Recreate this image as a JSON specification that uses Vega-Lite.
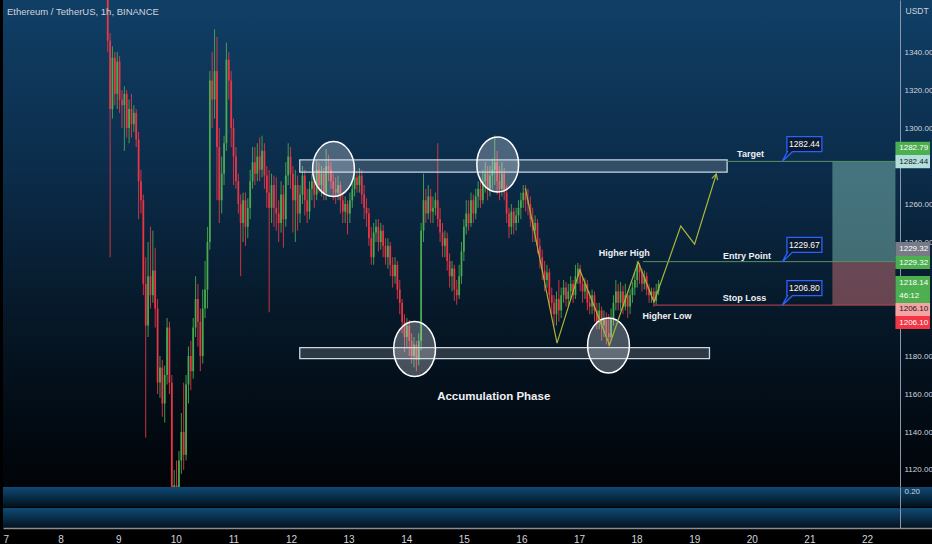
{
  "$schema": "https://vega.github.io/schema/vega-lite/v6.json",
  "background": "#000000",
  "padding": 0,
  "bounds": "flush",
  "spacing": 0,
  "config": {
    "view": {"stroke": null},
    "axis": {"grid": false, "ticks": false, "domain": false, "labelColor": "#d1d4dc", "labelFontSize": 8, "labelFont": "Liberation Sans", "titleFont": "Liberation Sans"},
    "text": {"font": "Liberation Sans"}
  },
  "datasets": {
    "candles": [
      {"t":8.75,"o":1400,"h":1420,"l":1340,"c":1346},{"t":8.792,"o":1346,"h":1350,"l":1232,"c":1310},{"t":8.833,"o":1310,"h":1343,"l":1305,"c":1337},{"t":8.875,"o":1337,"h":1340,"l":1312,"c":1318},{"t":8.917,"o":1318,"h":1340,"l":1310,"c":1335},{"t":8.958,"o":1335,"h":1338,"l":1308,"c":1315},
      {"t":9,"o":1315,"h":1320,"l":1300,"c":1312},{"t":9.042,"o":1312,"h":1322,"l":1288,"c":1318},{"t":9.083,"o":1318,"h":1320,"l":1295,"c":1300},{"t":9.125,"o":1300,"h":1315,"l":1292,"c":1310},{"t":9.167,"o":1310,"h":1318,"l":1295,"c":1302},{"t":9.208,"o":1302,"h":1312,"l":1298,"c":1308},{"t":9.25,"o":1308,"h":1310,"l":1290,"c":1294},{"t":9.292,"o":1294,"h":1298,"l":1252,"c":1272},{"t":9.333,"o":1272,"h":1278,"l":1255,"c":1262},{"t":9.375,"o":1262,"h":1265,"l":1212,"c":1218},{"t":9.417,"o":1218,"h":1232,"l":1137,"c":1196},{"t":9.458,"o":1196,"h":1240,"l":1190,"c":1222},{"t":9.5,"o":1222,"h":1248,"l":1205,"c":1212},{"t":9.542,"o":1212,"h":1246,"l":1208,"c":1225},{"t":9.583,"o":1225,"h":1237,"l":1195,"c":1205},{"t":9.625,"o":1205,"h":1210,"l":1160,"c":1166},{"t":9.667,"o":1166,"h":1180,"l":1158,"c":1174},{"t":9.708,"o":1174,"h":1178,"l":1148,"c":1155},{"t":9.75,"o":1155,"h":1175,"l":1145,"c":1170},{"t":9.792,"o":1170,"h":1200,"l":1165,"c":1195},{"t":9.833,"o":1195,"h":1198,"l":1160,"c":1166},{"t":9.875,"o":1166,"h":1170,"l":1075,"c":1100},{"t":9.917,"o":1100,"h":1120,"l":1080,"c":1112},{"t":9.958,"o":1112,"h":1125,"l":1085,"c":1100},
      {"t":10,"o":1100,"h":1130,"l":1085,"c":1125},{"t":10.042,"o":1125,"h":1150,"l":1118,"c":1140},{"t":10.083,"o":1140,"h":1166,"l":1120,"c":1128},{"t":10.125,"o":1128,"h":1170,"l":1125,"c":1165},{"t":10.167,"o":1165,"h":1185,"l":1155,"c":1180},{"t":10.208,"o":1180,"h":1188,"l":1162,"c":1172},{"t":10.25,"o":1172,"h":1200,"l":1168,"c":1195},{"t":10.292,"o":1195,"h":1222,"l":1190,"c":1210},{"t":10.333,"o":1210,"h":1218,"l":1185,"c":1198},{"t":10.375,"o":1198,"h":1205,"l":1172,"c":1180},{"t":10.417,"o":1180,"h":1215,"l":1176,"c":1205},{"t":10.458,"o":1205,"h":1230,"l":1200,"c":1215},{"t":10.5,"o":1215,"h":1248,"l":1205,"c":1240},{"t":10.542,"o":1240,"h":1330,"l":1236,"c":1325},{"t":10.583,"o":1325,"h":1340,"l":1300,"c":1315},{"t":10.625,"o":1315,"h":1352,"l":1305,"c":1330},{"t":10.667,"o":1330,"h":1348,"l":1262,"c":1290},{"t":10.708,"o":1290,"h":1300,"l":1250,"c":1262},{"t":10.75,"o":1262,"h":1285,"l":1255,"c":1276},{"t":10.792,"o":1276,"h":1296,"l":1270,"c":1292},{"t":10.833,"o":1292,"h":1345,"l":1288,"c":1336},{"t":10.875,"o":1336,"h":1340,"l":1315,"c":1325},{"t":10.917,"o":1325,"h":1330,"l":1290,"c":1300},{"t":10.958,"o":1300,"h":1305,"l":1270,"c":1285},
      {"t":11,"o":1285,"h":1290,"l":1268,"c":1272},{"t":11.042,"o":1272,"h":1276,"l":1255,"c":1260},{"t":11.083,"o":1260,"h":1265,"l":1222,"c":1250},{"t":11.125,"o":1250,"h":1266,"l":1240,"c":1262},{"t":11.167,"o":1262,"h":1266,"l":1238,"c":1248},{"t":11.208,"o":1248,"h":1263,"l":1242,"c":1258},{"t":11.25,"o":1258,"h":1278,"l":1252,"c":1272},{"t":11.292,"o":1272,"h":1290,"l":1268,"c":1282},{"t":11.333,"o":1282,"h":1290,"l":1270,"c":1276},{"t":11.375,"o":1276,"h":1292,"l":1272,"c":1285},{"t":11.417,"o":1285,"h":1295,"l":1272,"c":1278},{"t":11.458,"o":1278,"h":1296,"l":1274,"c":1288},{"t":11.5,"o":1288,"h":1292,"l":1268,"c":1275},{"t":11.542,"o":1275,"h":1280,"l":1258,"c":1266},{"t":11.583,"o":1266,"h":1278,"l":1203,"c":1258},{"t":11.625,"o":1258,"h":1276,"l":1250,"c":1270},{"t":11.667,"o":1270,"h":1275,"l":1248,"c":1258},{"t":11.708,"o":1258,"h":1274,"l":1246,"c":1255},{"t":11.75,"o":1255,"h":1262,"l":1240,"c":1250},{"t":11.792,"o":1250,"h":1272,"l":1245,"c":1265},{"t":11.833,"o":1265,"h":1270,"l":1237,"c":1252},{"t":11.875,"o":1252,"h":1282,"l":1248,"c":1275},{"t":11.917,"o":1275,"h":1292,"l":1270,"c":1285},{"t":11.958,"o":1285,"h":1290,"l":1268,"c":1276},
      {"t":12,"o":1276,"h":1280,"l":1245,"c":1262},{"t":12.042,"o":1262,"h":1278,"l":1240,"c":1270},{"t":12.083,"o":1270,"h":1275,"l":1246,"c":1255},{"t":12.125,"o":1255,"h":1270,"l":1250,"c":1265},{"t":12.167,"o":1265,"h":1280,"l":1260,"c":1275},{"t":12.208,"o":1275,"h":1278,"l":1254,"c":1262},{"t":12.25,"o":1262,"h":1268,"l":1250,"c":1256},{"t":12.292,"o":1256,"h":1272,"l":1252,"c":1268},{"t":12.333,"o":1268,"h":1276,"l":1262,"c":1272},{"t":12.375,"o":1272,"h":1276,"l":1258,"c":1265},{"t":12.417,"o":1265,"h":1283,"l":1262,"c":1278},{"t":12.458,"o":1278,"h":1282,"l":1266,"c":1270},{"t":12.5,"o":1270,"h":1280,"l":1264,"c":1276},{"t":12.542,"o":1276,"h":1279,"l":1262,"c":1266},{"t":12.583,"o":1266,"h":1289,"l":1262,"c":1280},{"t":12.625,"o":1280,"h":1286,"l":1272,"c":1278},{"t":12.667,"o":1278,"h":1282,"l":1268,"c":1272},{"t":12.708,"o":1272,"h":1276,"l":1262,"c":1268},{"t":12.75,"o":1268,"h":1274,"l":1260,"c":1266},{"t":12.792,"o":1266,"h":1275,"l":1262,"c":1270},{"t":12.833,"o":1270,"h":1272,"l":1255,"c":1262},{"t":12.875,"o":1262,"h":1265,"l":1250,"c":1256},{"t":12.917,"o":1256,"h":1264,"l":1250,"c":1260},{"t":12.958,"o":1260,"h":1262,"l":1244,"c":1255},
      {"t":13,"o":1255,"h":1266,"l":1250,"c":1262},{"t":13.042,"o":1262,"h":1272,"l":1258,"c":1268},{"t":13.083,"o":1268,"h":1278,"l":1264,"c":1274},{"t":13.125,"o":1274,"h":1277,"l":1266,"c":1270},{"t":13.167,"o":1270,"h":1279,"l":1266,"c":1275},{"t":13.208,"o":1275,"h":1278,"l":1260,"c":1265},{"t":13.25,"o":1265,"h":1270,"l":1252,"c":1258},{"t":13.292,"o":1258,"h":1263,"l":1248,"c":1255},{"t":13.333,"o":1255,"h":1258,"l":1238,"c":1242},{"t":13.375,"o":1242,"h":1248,"l":1228,"c":1232},{"t":13.417,"o":1232,"h":1250,"l":1228,"c":1245},{"t":13.458,"o":1245,"h":1252,"l":1240,"c":1248},{"t":13.5,"o":1248,"h":1252,"l":1235,"c":1240},{"t":13.542,"o":1240,"h":1250,"l":1236,"c":1246},{"t":13.583,"o":1246,"h":1249,"l":1232,"c":1238},{"t":13.625,"o":1238,"h":1242,"l":1228,"c":1232},{"t":13.667,"o":1232,"h":1242,"l":1226,"c":1238},{"t":13.708,"o":1238,"h":1240,"l":1222,"c":1228},{"t":13.75,"o":1228,"h":1232,"l":1216,"c":1222},{"t":13.792,"o":1222,"h":1232,"l":1218,"c":1228},{"t":13.833,"o":1228,"h":1230,"l":1210,"c":1215},{"t":13.875,"o":1215,"h":1220,"l":1202,"c":1208},{"t":13.917,"o":1208,"h":1210,"l":1192,"c":1198},{"t":13.958,"o":1198,"h":1202,"l":1182,"c":1190},
      {"t":14,"o":1190,"h":1200,"l":1184,"c":1196},{"t":14.042,"o":1196,"h":1199,"l":1180,"c":1188},{"t":14.083,"o":1188,"h":1192,"l":1176,"c":1180},{"t":14.125,"o":1180,"h":1190,"l":1174,"c":1186},{"t":14.167,"o":1186,"h":1188,"l":1172,"c":1178},{"t":14.208,"o":1178,"h":1192,"l":1175,"c":1188},{"t":14.25,"o":1188,"h":1250,"l":1183,"c":1246},{"t":14.292,"o":1246,"h":1276,"l":1240,"c":1262},{"t":14.333,"o":1262,"h":1268,"l":1250,"c":1255},{"t":14.375,"o":1255,"h":1270,"l":1252,"c":1264},{"t":14.417,"o":1264,"h":1268,"l":1250,"c":1256},{"t":14.458,"o":1256,"h":1264,"l":1250,"c":1258},{"t":14.5,"o":1258,"h":1266,"l":1254,"c":1262},{"t":14.542,"o":1262,"h":1292,"l":1248,"c":1252},{"t":14.583,"o":1252,"h":1258,"l":1240,"c":1245},{"t":14.625,"o":1245,"h":1250,"l":1232,"c":1238},{"t":14.667,"o":1238,"h":1246,"l":1232,"c":1242},{"t":14.708,"o":1242,"h":1245,"l":1225,"c":1230},{"t":14.75,"o":1230,"h":1234,"l":1216,"c":1222},{"t":14.792,"o":1222,"h":1230,"l":1214,"c":1226},{"t":14.833,"o":1226,"h":1228,"l":1209,"c":1215},{"t":14.875,"o":1215,"h":1220,"l":1207,"c":1212},{"t":14.917,"o":1212,"h":1228,"l":1210,"c":1222},{"t":14.958,"o":1222,"h":1240,"l":1218,"c":1235},
      {"t":15,"o":1235,"h":1252,"l":1230,"c":1248},{"t":15.042,"o":1248,"h":1262,"l":1244,"c":1255},{"t":15.083,"o":1255,"h":1262,"l":1246,"c":1250},{"t":15.125,"o":1250,"h":1266,"l":1248,"c":1262},{"t":15.167,"o":1262,"h":1265,"l":1250,"c":1255},{"t":15.208,"o":1255,"h":1268,"l":1252,"c":1264},{"t":15.25,"o":1264,"h":1272,"l":1258,"c":1268},{"t":15.292,"o":1268,"h":1274,"l":1258,"c":1262},{"t":15.333,"o":1262,"h":1278,"l":1260,"c":1272},{"t":15.375,"o":1272,"h":1282,"l":1266,"c":1276},{"t":15.417,"o":1276,"h":1280,"l":1262,"c":1268},{"t":15.458,"o":1268,"h":1280,"l":1264,"c":1275},{"t":15.5,"o":1275,"h":1284,"l":1268,"c":1278},{"t":15.542,"o":1278,"h":1296,"l":1270,"c":1282},{"t":15.583,"o":1282,"h":1288,"l":1265,"c":1272},{"t":15.625,"o":1272,"h":1280,"l":1262,"c":1268},{"t":15.667,"o":1268,"h":1282,"l":1264,"c":1276},{"t":15.708,"o":1276,"h":1279,"l":1262,"c":1266},{"t":15.75,"o":1266,"h":1270,"l":1250,"c":1255},{"t":15.792,"o":1255,"h":1258,"l":1242,"c":1248},{"t":15.833,"o":1248,"h":1260,"l":1244,"c":1256},{"t":15.875,"o":1256,"h":1258,"l":1244,"c":1250},{"t":15.917,"o":1250,"h":1258,"l":1246,"c":1254},{"t":15.958,"o":1254,"h":1262,"l":1250,"c":1258},
      {"t":16,"o":1258,"h":1266,"l":1252,"c":1262},{"t":16.042,"o":1262,"h":1270,"l":1258,"c":1266},{"t":16.083,"o":1266,"h":1270,"l":1256,"c":1262},{"t":16.125,"o":1262,"h":1268,"l":1254,"c":1260},{"t":16.167,"o":1260,"h":1264,"l":1248,"c":1252},{"t":16.208,"o":1252,"h":1258,"l":1240,"c":1246},{"t":16.25,"o":1246,"h":1254,"l":1240,"c":1250},{"t":16.292,"o":1250,"h":1252,"l":1234,"c":1238},{"t":16.333,"o":1238,"h":1242,"l":1226,"c":1232},{"t":16.375,"o":1232,"h":1236,"l":1220,"c":1225},{"t":16.417,"o":1225,"h":1230,"l":1214,"c":1220},{"t":16.458,"o":1220,"h":1228,"l":1216,"c":1224},{"t":16.5,"o":1224,"h":1226,"l":1206,"c":1212},{"t":16.542,"o":1212,"h":1216,"l":1202,"c":1208},{"t":16.583,"o":1208,"h":1212,"l":1196,"c":1202},{"t":16.625,"o":1202,"h":1214,"l":1196,"c":1210},{"t":16.667,"o":1210,"h":1220,"l":1198,"c":1204},{"t":16.708,"o":1204,"h":1216,"l":1200,"c":1212},{"t":16.75,"o":1212,"h":1220,"l":1208,"c":1216},{"t":16.792,"o":1216,"h":1219,"l":1206,"c":1210},{"t":16.833,"o":1210,"h":1218,"l":1206,"c":1214},{"t":16.875,"o":1214,"h":1222,"l":1210,"c":1218},{"t":16.917,"o":1218,"h":1220,"l":1208,"c":1212},{"t":16.958,"o":1212,"h":1228,"l":1210,"c":1222},
      {"t":17,"o":1222,"h":1229,"l":1218,"c":1226},{"t":17.042,"o":1226,"h":1228,"l":1214,"c":1218},{"t":17.083,"o":1218,"h":1222,"l":1208,"c":1214},{"t":17.125,"o":1214,"h":1221,"l":1210,"c":1218},{"t":17.167,"o":1218,"h":1220,"l":1204,"c":1208},{"t":17.208,"o":1208,"h":1214,"l":1202,"c":1206},{"t":17.25,"o":1206,"h":1215,"l":1202,"c":1212},{"t":17.292,"o":1212,"h":1214,"l":1198,"c":1204},{"t":17.333,"o":1204,"h":1208,"l":1194,"c":1198},{"t":17.375,"o":1198,"h":1208,"l":1194,"c":1204},{"t":17.417,"o":1204,"h":1206,"l":1188,"c":1196},{"t":17.458,"o":1196,"h":1204,"l":1190,"c":1200},{"t":17.5,"o":1200,"h":1203,"l":1186,"c":1192},{"t":17.542,"o":1192,"h":1202,"l":1185,"c":1190},{"t":17.583,"o":1190,"h":1205,"l":1188,"c":1200},{"t":17.625,"o":1200,"h":1212,"l":1196,"c":1208},{"t":17.667,"o":1208,"h":1220,"l":1204,"c":1214},{"t":17.708,"o":1214,"h":1218,"l":1204,"c":1208},{"t":17.75,"o":1208,"h":1219,"l":1204,"c":1214},{"t":17.792,"o":1214,"h":1217,"l":1202,"c":1206},{"t":17.833,"o":1206,"h":1218,"l":1204,"c":1212},{"t":17.875,"o":1212,"h":1214,"l":1200,"c":1206},{"t":17.917,"o":1206,"h":1215,"l":1202,"c":1212},{"t":17.958,"o":1212,"h":1219,"l":1208,"c":1216},
      {"t":18,"o":1216,"h":1224,"l":1212,"c":1220},{"t":18.042,"o":1220,"h":1230,"l":1216,"c":1228},{"t":18.083,"o":1228,"h":1229,"l":1218,"c":1224},{"t":18.125,"o":1224,"h":1226,"l":1214,"c":1218},{"t":18.167,"o":1218,"h":1225,"l":1215,"c":1222},{"t":18.208,"o":1222,"h":1224,"l":1212,"c":1215},{"t":18.25,"o":1215,"h":1218,"l":1208,"c":1212},{"t":18.292,"o":1212,"h":1216,"l":1208,"c":1214},{"t":18.333,"o":1214,"h":1216,"l":1206,"c":1209},{"t":18.375,"o":1209,"h":1218,"l":1207,"c":1214},{"t":18.417,"o":1214,"h":1220,"l":1212,"c":1218.14}
    ],
    "zones": [
      {"t1":12.12,"t2":19.62,"p1":1276.8,"p2":1283.2},
      {"t1":12.12,"t2":19.31,"p1":1178.6,"p2":1184.4}
    ],
    "rings": [
      {"t":12.712,"p":1278.4},{"t":15.594,"p":1280.8},{"t":14.135,"p":1183.7},{"t":17.538,"p":1185.5}
    ],
    "path": [
      {"i":1,"t":16.08,"p":1268.4},{"i":2,"t":16.635,"p":1186.8},{"i":3,"t":17.035,"p":1225.3},{"i":4,"t":17.556,"p":1185.8},{"i":5,"t":18.059,"p":1229.5},{"i":6,"t":18.337,"p":1208.4},{"i":7,"t":18.806,"p":1248.4},{"i":8,"t":19.049,"p":1238.9},{"i":9,"t":19.43,"p":1275.8}
    ],
    "levels": [
      {"k":"target","t1":19.62,"t2":22.573,"p":1282.44},
      {"k":"entry","t1":18.146,"t2":22.573,"p":1229.67},
      {"k":"stop","t1":18.337,"t2":22.573,"p":1206.8}
    ],
    "position": [
      {"k":"profit","t1":21.467,"t2":22.573,"p1":1229.67,"p2":1282.44},
      {"k":"loss","t1":21.467,"t2":22.573,"p1":1206.8,"p2":1229.67}
    ],
    "notes": [
      {"s":"Target","t":20.03,"p":1286.3},
      {"s":"Entry Point","t":19.97,"p":1232.9},
      {"s":"Stop Loss","t":19.925,"p":1210.5},
      {"s":"Higher High","t":17.816,"p":1234.2},
      {"s":"Higher Low","t":18.563,"p":1200.8}
    ],
    "callouts": [
      {"s":"1282.44","t":20.976,"p":1291.5},
      {"s":"1229.67","t":20.976,"p":1238.5},
      {"s":"1206.80","t":20.976,"p":1215.7}
    ],
    "tags": [
      {"k":"up","lo":1285.8,"hi":1292.8},
      {"k":"teal","lo":1278.9,"hi":1285.8},
      {"k":"gray","lo":1232.6,"hi":1240},
      {"k":"up","lo":1225.8,"hi":1232.6},
      {"k":"up","lo":1207.9,"hi":1222.1},
      {"k":"pink","lo":1201.1,"hi":1207.9},
      {"k":"red","lo":1194.2,"hi":1201.1}
    ],
    "tagtext": [
      {"s":"1282.79","k":"up","p":1289.3},
      {"s":"1282.44","k":"teal","p":1282.35},
      {"s":"1229.32","k":"gray","p":1236.3},
      {"s":"1229.32","k":"up","p":1229.2},
      {"s":"1218.14","k":"up","p":1218.2},
      {"s":"46:12","k":"up","p":1211.6},
      {"s":"1206.10","k":"pink","p":1204.5},
      {"s":"1206.10","k":"red","p":1197.6}
    ]
  },
  "vconcat": [
    {
      "width": 932,
      "height": 487,
      "view": {"stroke": null, "fill": {"gradient": "linear", "x1": 0, "y1": 0, "x2": 0, "y2": 1, "stops": [{"offset": 0, "color": "#103f66"}, {"offset": 0.35, "color": "#0b2c4a"}, {"offset": 0.65, "color": "#061828"}, {"offset": 0.88, "color": "#020a12"}, {"offset": 1, "color": "#010408"}]}},
      "title": {"text": "Ethereum / TetherUS, 1h, BINANCE", "anchor": "start", "offset": -16, "dx": 4, "fontSize": 9.5, "fontWeight": "normal", "color": "#d1d4dc", "font": "Liberation Sans"},
      "layer": [
        {
          "data": {"name": "candles"},
          "mark": {"type": "rule", "clip": true, "strokeWidth": 1, "opacity": 0.85},
          "encoding": {
            "x": {"field": "t", "type": "quantitative", "scale": {"domain": [7, 23.18], "nice": false, "zero": false}, "axis": null},
            "y": {"field": "l", "type": "quantitative", "scale": {"domain": [1111.05, 1367.4], "nice": false, "zero": false},
              "axis": {"orient": "right", "offset": -35, "values": [1120, 1140, 1160, 1180, 1240, 1260, 1300, 1320, 1340], "format": ".2f", "labelPadding": 4, "domain": true, "domainColor": "#8c96a8", "title": "USDT", "titleAngle": 0, "titleAlign": "left", "titleBaseline": "top", "titleX": 5, "titleY": 6, "titleFontSize": 8.5, "titleFontWeight": "normal", "titleColor": "#d1d4dc"}},
            "y2": {"field": "h"},
            "color": {"condition": {"test": "datum.c >= datum.o", "value": "#4caf50"}, "value": "#f23645"}
          }
        },
        {
          "data": {"name": "candles"},
          "mark": {"type": "bar", "width": 1.8, "clip": true, "opacity": 0.9},
          "encoding": {
            "x": {"field": "t", "type": "quantitative", "axis": null},
            "y": {"field": "o", "type": "quantitative"},
            "y2": {"field": "c"},
            "color": {"condition": {"test": "datum.c >= datum.o", "value": "#4caf50"}, "value": "#f23645"}
          }
        },
        {
          "data": {"name": "zones"},
          "mark": {"type": "rect", "fill": "#ffffff", "fillOpacity": 0.16, "stroke": "#c9d6e3", "strokeWidth": 1.3},
          "encoding": {
            "x": {"field": "t1", "type": "quantitative", "axis": null},
            "x2": {"field": "t2"},
            "y": {"field": "p1", "type": "quantitative"},
            "y2": {"field": "p2"}
          }
        },
        {
          "data": {"name": "rings"},
          "mark": {"type": "point", "shape": "M 0 -1 A 0.76 1 0 1 1 0 1 A 0.76 1 0 1 1 0 -1 Z", "size": 3025, "filled": true, "fill": "#e0e6ea", "fillOpacity": 0.3, "stroke": "#ffffff", "strokeWidth": 1.5, "opacity": 1},
          "encoding": {
            "x": {"field": "t", "type": "quantitative", "axis": null},
            "y": {"field": "p", "type": "quantitative"}
          }
        },
        {
          "data": {"name": "path"},
          "mark": {"type": "line", "color": "#a8b43a", "strokeWidth": 1.2},
          "encoding": {
            "x": {"field": "t", "type": "quantitative", "axis": null},
            "y": {"field": "p", "type": "quantitative"},
            "order": {"field": "i"}
          }
        },
        {
          "data": {"name": "path"},
          "transform": [{"filter": "datum.i == 9"}],
          "mark": {"type": "point", "shape": "M -0.55 1 L 0 0 L 0.55 1", "size": 121, "angle": 17, "filled": false, "stroke": "#a8b43a", "strokeWidth": 1.2, "opacity": 1},
          "encoding": {
            "x": {"field": "t", "type": "quantitative", "axis": null},
            "y": {"field": "p", "type": "quantitative"}
          }
        },
        {
          "data": {"name": "position"},
          "mark": {"type": "rect"},
          "encoding": {
            "x": {"field": "t1", "type": "quantitative", "axis": null},
            "x2": {"field": "t2"},
            "y": {"field": "p1", "type": "quantitative"},
            "y2": {"field": "p2"},
            "fill": {"condition": {"test": "datum.k == 'profit'", "value": "#8ccbc0"}, "value": "#df797f"},
            "opacity": {"value": 0.45}
          }
        },
        {
          "data": {"name": "levels"},
          "mark": {"type": "rule", "strokeWidth": 1},
          "encoding": {
            "x": {"field": "t1", "type": "quantitative", "axis": null},
            "x2": {"field": "t2"},
            "y": {"field": "p", "type": "quantitative"},
            "color": {"condition": {"test": "datum.k == 'stop'", "value": "#c2444f"}, "value": "#5a9160"}
          }
        },
        {
          "data": {"name": "notes"},
          "mark": {"type": "text", "fontSize": 9, "fontWeight": "bold", "color": "#eef0f4"},
          "encoding": {
            "x": {"field": "t", "type": "quantitative", "axis": null},
            "y": {"field": "p", "type": "quantitative"},
            "text": {"field": "s"}
          }
        },
        {
          "data": {"values": [{"s": "Accumulation Phase", "t": 15.524, "p": 1158.4}]},
          "mark": {"type": "text", "fontSize": 11.5, "fontWeight": "bold", "color": "#eef0f4"},
          "encoding": {
            "x": {"field": "t", "type": "quantitative", "axis": null},
            "y": {"field": "p", "type": "quantitative"},
            "text": {"field": "s"}
          }
        },
        {
          "data": {"name": "callouts"},
          "mark": {"type": "point", "shape": "M -1 -0.43 L 1 -0.43 L 1 0.43 L -0.69 0.43 L -1.26 0.97 L -0.97 0.43 L -1 0.43 Z", "size": 1225, "filled": true, "fill": "#0b1a2e", "stroke": "#2962ff", "strokeWidth": 1.3, "opacity": 1},
          "encoding": {
            "x": {"field": "t", "type": "quantitative", "axis": null},
            "y": {"field": "p", "type": "quantitative"}
          }
        },
        {
          "data": {"name": "callouts"},
          "mark": {"type": "text", "fontSize": 8.5, "color": "#ffffff"},
          "encoding": {
            "x": {"field": "t", "type": "quantitative", "axis": null},
            "y": {"field": "p", "type": "quantitative"},
            "text": {"field": "s"}
          }
        },
        {
          "data": {"name": "tags"},
          "mark": {"type": "rect"},
          "encoding": {
            "x": {"datum": 22.573, "type": "quantitative", "axis": null},
            "x2": {"datum": 23.18},
            "y": {"field": "lo", "type": "quantitative"},
            "y2": {"field": "hi"},
            "fill": {"condition": [
              {"test": "datum.k == 'teal'", "value": "#b2dfdb"},
              {"test": "datum.k == 'gray'", "value": "#787b86"},
              {"test": "datum.k == 'pink'", "value": "#f5a3a3"},
              {"test": "datum.k == 'red'", "value": "#f23645"}
            ], "value": "#4caf50"}
          }
        },
        {
          "data": {"name": "tagtext"},
          "mark": {"type": "text", "fontSize": 8, "align": "left"},
          "encoding": {
            "x": {"datum": 22.64, "type": "quantitative", "axis": null},
            "y": {"field": "p", "type": "quantitative"},
            "text": {"field": "s"},
            "color": {"condition": {"test": "datum.k == 'teal' || datum.k == 'pink'", "value": "#131722"}, "value": "#ffffff"}
          }
        }
      ]
    },
    {
      "width": 932,
      "height": 21,
      "view": {"stroke": null, "fill": {"gradient": "linear", "x1": 0, "y1": 0, "x2": 0, "y2": 1, "stops": [{"offset": 0, "color": "#0f4a76"}, {"offset": 0.92, "color": "#03121e"}, {"offset": 1, "color": "#000000"}]}},
      "data": {"values": [{}]},
      "mark": "point",
      "encoding": {
        "y": {"datum": 0.2, "type": "quantitative", "scale": {"domain": [0, 0.26], "nice": false},
          "axis": {"orient": "right", "offset": -35, "values": [0.2], "format": ".2f", "labelPadding": 4, "domain": true, "domainColor": "#8c96a8", "title": null}},
        "opacity": {"value": 0}
      }
    },
    {
      "width": 932,
      "height": 20,
      "view": {"stroke": null, "fill": {"gradient": "linear", "x1": 0, "y1": 0, "x2": 0, "y2": 1, "stops": [{"offset": 0, "color": "#0f4a76"}, {"offset": 1, "color": "#03121e"}]}},
      "data": {"values": [{}]},
      "mark": "point",
      "encoding": {
        "x": {"datum": 7, "type": "quantitative", "scale": {"domain": [7, 23.18], "nice": false, "zero": false},
          "axis": {"orient": "bottom", "values": [7, 8, 9, 10, 11, 12, 13, 14, 15, 16, 17, 18, 19, 20, 21, 22], "format": "d", "domain": true, "domainColor": "#8a8d94", "domainWidth": 1.5, "labelPadding": 6, "labelFlush": true, "labelFontSize": 10, "title": null}},
        "y": {"datum": 0, "type": "quantitative", "scale": {"domain": [0, 1]},
          "axis": {"orient": "right", "offset": -35, "labels": false, "domain": true, "domainColor": "#8c96a8", "title": null}},
        "opacity": {"value": 0}
      }
    }
  ]
}
